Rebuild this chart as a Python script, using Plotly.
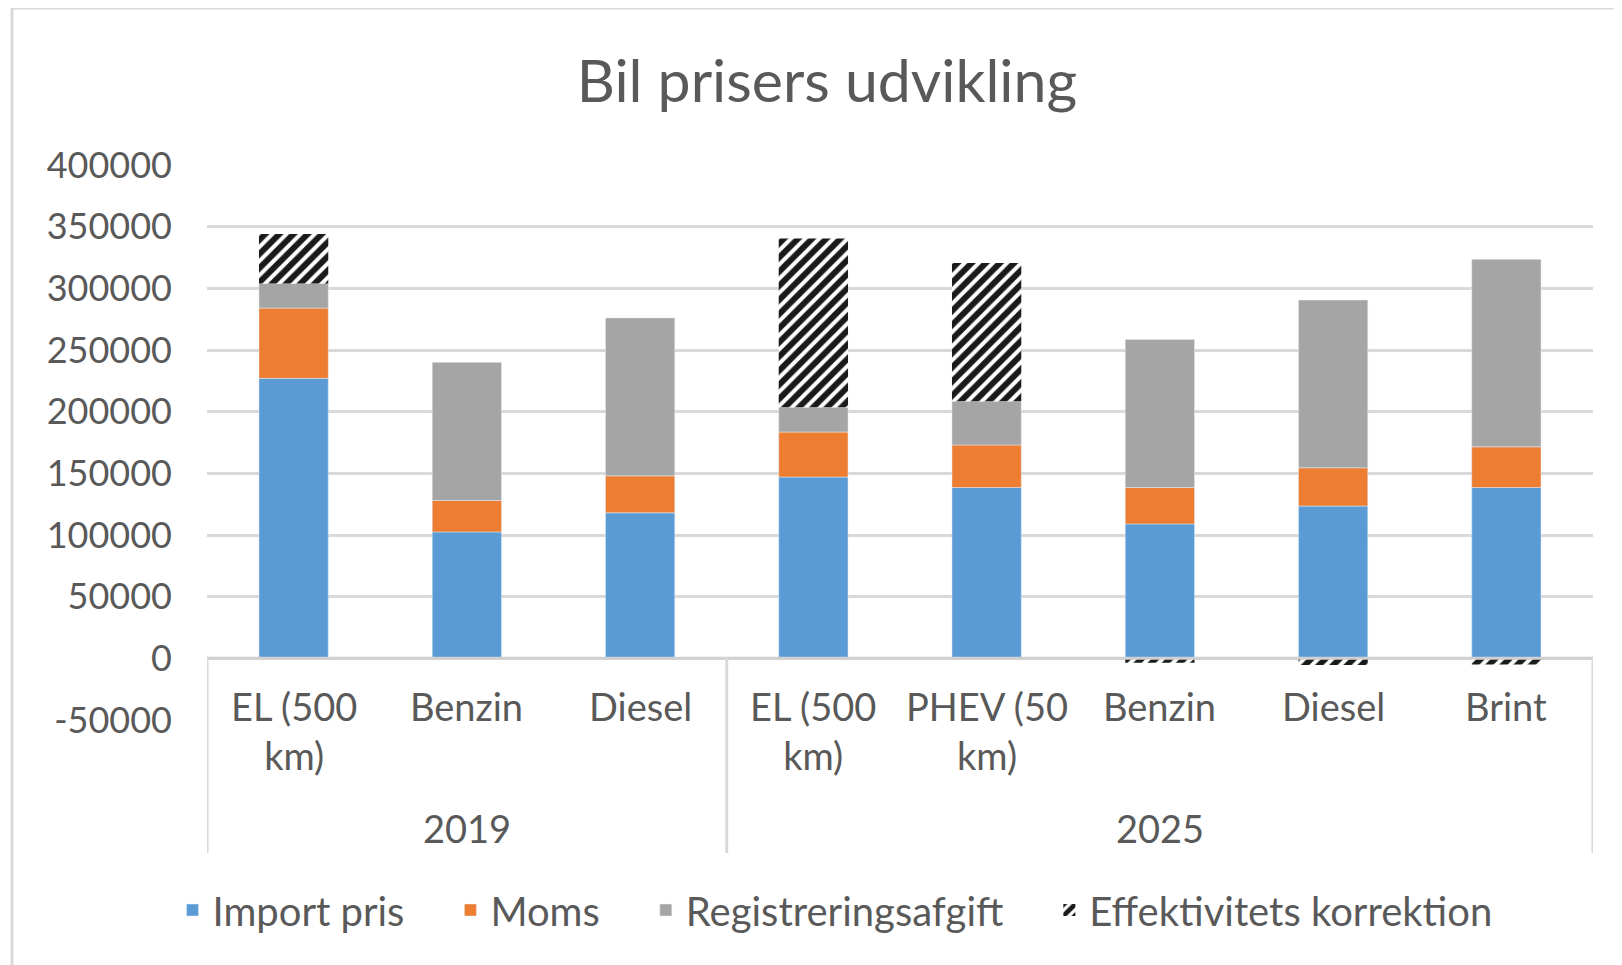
import plotly.graph_objects as go

years = ["2019", "2019", "2019", "2025", "2025", "2025", "2025", "2025"]
categories = ["EL (500<br>km)", "Benzin", "Diesel", "EL (500<br>km)", "PHEV (50<br>km)", "Benzin", "Diesel", "Brint"]
import_pris = [227000, 102500, 118000, 147000, 138500, 109000, 123500, 138500]
moms = [57000, 25500, 30000, 36500, 34500, 29500, 31000, 33000]
registrering = [20000, 112000, 128000, 20000, 35500, 120000, 136000, 152000]
effektivitet = [40000, 0, 0, 137000, 112000, -3500, -5500, -5000]
y_ticks = [-50000, 0, 50000, 100000, 150000, 200000, 250000, 300000, 350000, 400000]
series_names = ["Import pris", "Moms", "Registreringsafgift", "Effektivitets korrektion"]

FONT = "Lato"
TXT = "#595959"
GRID = "#D9D9D9"
OFF = 8  # page offset of the figure (body margin)
W_PX, H_PX = 1622, 965
L, T = 207 - OFF, 165 - OFF
PW, PH = 1386, 555
R = W_PX - L - PW
B = H_PX - T - PH
PAD = "\u00a0" * 4


def px_x(px):
    return (px - OFF - L) / PW


def px_y(py):
    return (T + PH - (py - OFF)) / PH


xpos = list(range(len(categories)))

fig = go.Figure()
fig.add_trace(go.Bar(x=xpos, y=import_pris, name=series_names[0] + PAD, marker_color="#5B9BD5", width=0.4))
fig.add_trace(go.Bar(x=xpos, y=moms, name=series_names[1] + PAD, marker_color="#ED7D31", width=0.4))
fig.add_trace(go.Bar(x=xpos, y=registrering, name=series_names[2] + PAD, marker_color="#A5A5A5", width=0.4))
fig.add_trace(go.Bar(
    x=xpos, y=effektivitet, name=series_names[3], width=0.4,
    marker=dict(color="white", line=dict(width=0),
                pattern=dict(shape="/", fgcolor="#1A1A1A", fgopacity=1, bgcolor="white",
                             size=10, solidity=0.6)),
))

shapes = []
shapes.append(dict(type="line", xref="paper", yref="y", x0=0, x1=1, y0=0, y1=0,
                   line=dict(color="#D0D0D0", width=3), layer="above"))
nyears = len(years)
sep_idx = [0] + [i for i in range(1, nyears) if years[i] != years[i - 1]] + [nyears]
for s in sep_idx:
    shapes.append(dict(type="line", xref="x", yref="paper", x0=s - 0.5, x1=s - 0.5,
                       y0=px_y(658), y1=px_y(853), line=dict(color=GRID, width=3)))
shapes.append(dict(type="line", xref="paper", yref="paper", x0=px_x(12), x1=px_x(1640),
                   y0=px_y(8), y1=px_y(8), line=dict(color=GRID, width=3)))
shapes.append(dict(type="line", xref="paper", yref="paper", x0=px_x(12), x1=px_x(12),
                   y0=px_y(8), y1=px_y(985), line=dict(color=GRID, width=3)))

annotations = []
for i, c in enumerate(categories):
    annotations.append(dict(x=i, y=px_y(681), xref="x", yref="paper", text=c, showarrow=False,
                            yanchor="top", font=dict(family=FONT, size=38, color=TXT)))
for k in range(len(sep_idx) - 1):
    a, b = sep_idx[k], sep_idx[k + 1]
    annotations.append(dict(x=(a + b - 1) / 2, y=px_y(828), xref="x", yref="paper", text=years[a],
                            showarrow=False, yanchor="middle", font=dict(family=FONT, size=38, color=TXT)))

fig.update_layout(
    width=W_PX, height=H_PX,
    margin=dict(l=L, r=R, t=T, b=B, autoexpand=False),
    paper_bgcolor="white", plot_bgcolor="white",
    barmode="relative",
    title=dict(text="Bil prisers udvikling", x=px_x(827), xref="paper", xanchor="center",
               y=1 - (81 - OFF) / H_PX, yanchor="middle", font=dict(family=FONT, size=59, color=TXT)),
    xaxis=dict(range=[-0.5, len(categories) - 0.5], showticklabels=False, showgrid=False,
               zeroline=False, showline=False, ticks=""),
    yaxis=dict(range=[-50000, 400000], tickvals=y_ticks, ticktext=[str(v) for v in y_ticks],
               showgrid=True, gridcolor=GRID, gridwidth=3, zeroline=False, showline=False,
               tickfont=dict(family=FONT, size=36, color=TXT), ticks="", ticklabelstandoff=34),
    legend=dict(orientation="h", x=px_x(835), xanchor="center", y=px_y(910), yanchor="middle",
                font=dict(family=FONT, size=40, color=TXT), itemwidth=30, traceorder="normal"),
    shapes=shapes, annotations=annotations,
    showlegend=True,
)

fig.write_html("out.html")
